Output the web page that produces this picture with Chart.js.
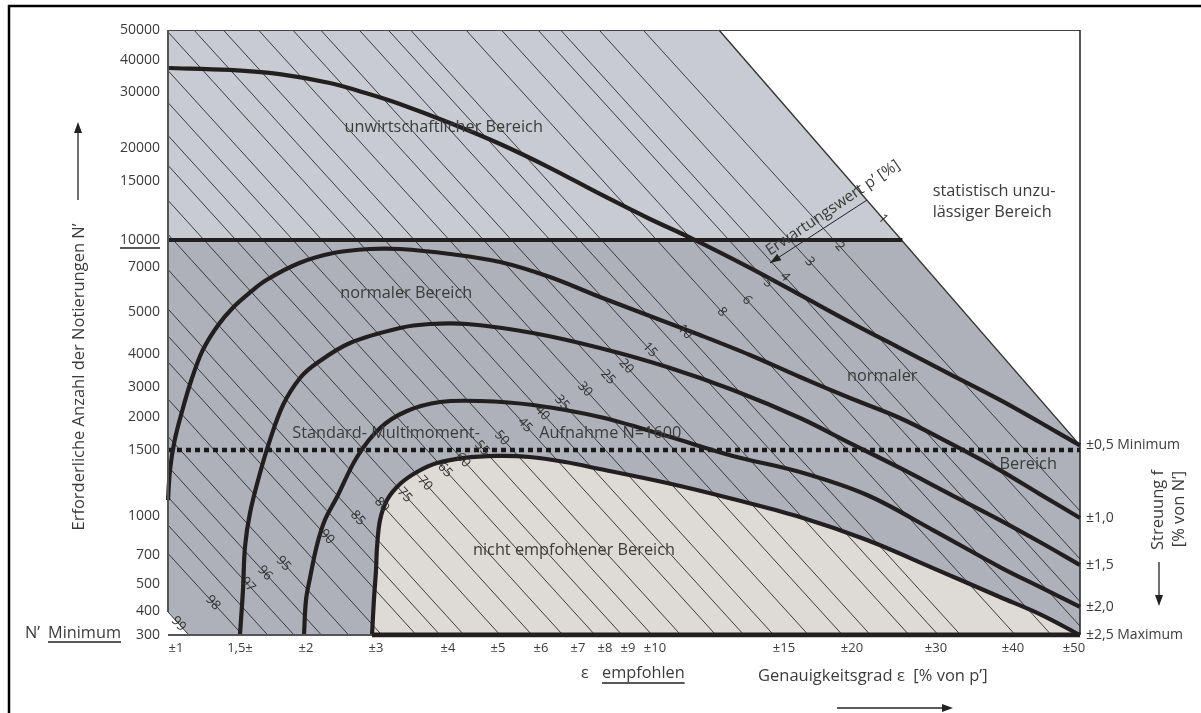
<!DOCTYPE html>
<html lang="de">
<head>
<meta charset="utf-8">
<title>Multimoment-Nomogramm</title>
<script src="https://cdn.jsdelivr.net/npm/chart.js@4.4.1/dist/chart.umd.min.js"></script>
<style>
  html, body { margin: 0; padding: 0; background: #fff; }
  canvas { display: block; }
</style>
</head>
<body>
<canvas id="nomogram" width="1201" height="713"></canvas>
<script>
// ---- axis ticks ----
const xTickValues = [1, 1.5, 2, 3, 4, 5, 6, 7, 8, 9, 10, 15, 20, 30, 40, 50];
const xTickLabels = ['±1', '1,5±', '±2', '±3', '±4', '±5', '±6', '±7', '±8', '±9', '±10', '±15', '±20', '±30', '±40', '±50'];
const yTickValues = [300, 400, 500, 700, 1000, 1500, 2000, 3000, 4000, 5000, 7000, 10000, 15000, 20000, 30000, 40000, 50000];
const yTickLabels = yTickValues.map(String);
const fTickValues = [300, 415, 631, 985, 1570];
const fTickLabels = ['±2,5 Maximum', '±2,0', '±1,5', '±1,0', '±0,5 Minimum'];

// ---- Streuung f curves (epsilon %, N) ----
const f05Eps = [0.94, 1.42, 1.80, 2.34, 2.91, 3.33, 4.04, 5.05, 6.24, 7.81, 9.81, 11.36, 13.68, 16.18, 19.85, 25.7, 31.8, 38.3, 44.4, 50.5];
const f05N   = [37500, 36900, 35600, 32800, 29600, 27860, 24460, 20710, 17000, 13900, 11780, 10200, 6960, 5760, 4760, 4140, 3390, 2570, 1920, 1570];
const f10Eps = [0.94, 0.955, 0.99, 1.05, 1.12, 1.21, 1.33, 1.45, 1.58, 1.70, 1.95, 2.39, 2.91, 3.33, 4.04, 5.05, 6.24, 7.81, 9.81, 11.74, 13.68, 16.18, 19.85, 25.7, 31.8, 38.3, 44.4, 50.5];
const f10N   = [1120, 1348, 1650, 2234, 3212, 4096, 4690, 5224, 5890, 6423, 7445, 8556, 9000, 9000, 8444, 7555, 6556, 5668, 4905, 4452, 3970, 3303, 2634, 1985, 1605, 1348, 1166, 985];
const f15Eps = [1.5, 1.523, 1.538, 1.576, 1.652, 1.727, 1.826, 1.955, 2.157, 2.629, 3.333, 3.75, 4.38, 5.81, 7.81, 10.47, 13.02, 16.18, 19.85, 25.7, 31.8, 38.3, 44.4, 50.5];
const f15N   = [300, 478, 761, 1023, 1326, 1650, 2400, 3273, 3727, 4262, 4619, 4714, 4714, 4500, 4143, 3606, 2900, 1985, 1605, 1364, 1166, 969, 800, 631];
const f20Eps = [1.985, 2.0, 2.057, 2.157, 2.27, 2.443, 2.729, 3.056, 3.43, 3.89, 4.64, 5.81, 7.81, 10.47, 13.02, 16.18, 21.79, 29.64, 38.3, 44.4, 50.5];
const f20N   = [300, 441, 541, 777, 969, 1144, 1447, 1833, 2200, 2500, 2533, 2400, 2000, 1711, 1455, 1333, 1159, 892, 617, 489, 415];
const f25Eps = [2.943, 2.97, 3.0, 3.014, 3.056, 3.153, 3.333, 3.569, 3.847, 4.3, 4.98, 5.74, 6.65, 7.81, 10.47, 13.02, 16.18, 21.79, 29.64, 38.3, 44.4, 50.5];
const f25N   = [300, 441, 597, 761, 969, 1121, 1242, 1333, 1401, 1439, 1455, 1447, 1409, 1356, 1250, 1129, 992, 815, 610, 452, 387, 300];

// ---- Erwartungswert p' lines: start and end (epsilon, N), label position (epsilon) ----
const pLabels = ['2', '3', '4', '5', '6', '8', '10', '', '15', '20', '25', '30', '35', '40', '45', '50',
                 '55', '60', '65', '70', '75', '80', '85', '', '90', '', '95', '96', '97', '', '98', '99'];
const pStart = [[9.56, 50000], [7.78, 50000], [6.53, 50000], [5.93, 50000], [5.08, 50000], [4.36, 50000], [3.48, 50000], [3.17, 50000],
                [2.76, 50000], [2.21, 50000], [1.90, 50000], [1.64, 50000], [1.37, 50000], [1.14, 50000], [0.94, 49330], [0.94, 36690],
                [0.94, 28110], [0.94, 22230], [0.94, 17380], [0.94, 13365], [0.94, 10485], [0.94, 6885], [0.94, 5135], [0.94, 4429],
                [0.94, 3758], [0.94, 2600], [0.94, 1704], [0.94, 1376], [0.94, 1144], [0.94, 931], [0.94, 712], [0.94, 396]];
const pEnd = [[50.5, 1038], [50.5, 672], [50.5, 435], [50.5, 337], [46.3, 300], [40.4, 300], [33.2, 300], [30.3, 300],
              [26.8, 300], [22.2, 300], [19.3, 300], [16.8, 300], [14.6, 300], [13.45, 300], [12.36, 300], [11.0, 300],
              [9.89, 300], [8.74, 300], [7.63, 300], [6.59, 300], [5.79, 300], [5.05, 300], [4.32, 300], [3.89, 300],
              [3.56, 300], [3.08, 300], [2.61, 300], [2.22, 300], [1.91, 300], [1.71, 300], [1.52, 300], [1.10, 300]];
const pLabelEps = [19.1, 16.9, 15.07, 14.38, 13.57, 12.6, 11.16, null, 9.81, 8.92, 8.13, 7.26, 6.57, 6.03, 5.63, 5.09,
                   4.68, 4.3, 3.96, 3.68, 3.40, 3.08, 2.74, null, 2.30, null, 1.83, 1.69, 1.56, null, 1.29, 1.02];

// ---- limits of the regions ----
const boundaryEps = [12.48, 50.5];      // statistisch unzulaessig (diagonal)
const boundaryN = [50000, 1570];
const boundaryLabelEps = 23.7;           // p' = 1
const minimumN = 10000;
const minimumEnd = 26;
const standardN = 1500;
const arrowEps = [21.8, 14.46];
const arrowN = [13390, 7445];

// in-plot texts, anchored in (epsilon, N)
const regionTexts = [
  { text: 'unwirtschaftlicher Bereich', x: 3.94, y: 23750 },
  { text: 'normaler Bereich', x: 3.42, y: 5845 },
  { text: 'normaler', x: 23.6, y: 3333 },
  { text: 'Bereich', x: 42.5, y: 1394 },
  { text: 'Standard- Multimoment-', x: 3.14, y: 1757 },
  { text: 'Aufnahme N=1600', x: 8.23, y: 1757 },
  { text: 'nicht empfohlener Bereich', x: 6.89, y: 738 },
  { text: 'statistisch unzu-', x: 29.6, y: 14150, align: 'left' },
  { text: 'lässiger Bereich', x: 29.6, y: 12375, align: 'left' },
  { text: 'Erwartungswert p’ [%]', x: 18.6, y: 12713, rot: -34, size: 15.5 }
];

// ---- distorted axes of the nomogram: value -> share of axis length ----
const scaleKnots = {
  x: { values: [0.94, 1, 1.5, 2, 3, 4, 5, 6, 7, 8, 9, 10, 15, 20, 30, 40, 50, 50.5],
       pos: [0, 0.0088, 0.0789, 0.1513, 0.2281, 0.3070, 0.3618, 0.4090, 0.4496, 0.4792, 0.5044, 0.5340, 0.6754, 0.7500, 0.8421, 0.9265, 0.9934, 1],
       ticks: xTickValues },
  y: { values: [300, 400, 500, 700, 1000, 1500, 2000, 3000, 4000, 5000, 7000, 10000, 15000, 20000, 30000, 40000, 50000],
       pos: [0, 0.0397, 0.0843, 0.1322, 0.1967, 0.3058, 0.3603, 0.4099, 0.4645, 0.5339, 0.6083, 0.6529, 0.7504, 0.8050, 0.8975, 0.9504, 1],
       ticks: yTickValues }
};
scaleKnots.yR = { values: scaleKnots.y.values, pos: scaleKnots.y.pos, ticks: fTickValues };

function piecewise(v, from, to) {
  let i = 1;
  while (i < from.length - 1 && v > from[i]) i++;
  const a = from[i - 1], b = from[i];
  return to[i - 1] + (v - a) / (b - a) * (to[i] - to[i - 1]);
}

class KnotScale extends Chart.LinearScale {
  static id = 'knot';
  static defaults = {};
  determineDataLimits() {
    const k = scaleKnots[this.id];
    this.min = k.values[0];
    this.max = k.values[k.values.length - 1];
  }
  buildTicks() {
    return scaleKnots[this.id].ticks.map(value => ({ value }));
  }
  getPixelForValue(value) {
    const k = scaleKnots[this.id];
    return this.getPixelForDecimal(piecewise(value, k.values, k.pos));
  }
  getValueForPixel(pixel) {
    const k = scaleKnots[this.id];
    return piecewise(this.getDecimalForPixel(pixel), k.pos, k.values);
  }
}
Chart.register(KnotScale);

const FONT = '"Open Sans", "Noto Sans", "DejaVu Sans", sans-serif';
const TEXT = '#3b3b3b';
const LIGHT = '#c8cbd1';
const DARK = '#aeb1b9';
const BEIGE = '#dedad6';
const INK = '#231f20';

const pts = (xs, ys) => xs.map((x, i) => ({ x, y: ys[i] }));

const datasets = [];
// lower (normal) area below N' = 10000
datasets.push({ data: pts([0.94, 50.5], [minimumN, minimumN]), borderWidth: 0, fill: 'start', backgroundColor: DARK, order: 100 });
// not recommended area
datasets.push({ data: pts(f25Eps, f25N), borderWidth: 0, fill: 'start', backgroundColor: BEIGE, tension: 0.35, order: 90 });
// p' lines
const pFirst = datasets.length;
pLabels.forEach((lab, i) => {
  const last = i === pLabels.length - 1;
  datasets.push({
    data: pts([pStart[i][0], pEnd[i][0]], [pStart[i][1], pEnd[i][1]]),
    borderColor: '#2b2b2b', borderWidth: 0.9,
    fill: last ? 'start' : false, backgroundColor: '#ffffff', order: 60
  });
});
// statistically invalid area
const boundaryIdx = datasets.length;
datasets.push({ data: pts(boundaryEps, boundaryN), borderColor: '#333', borderWidth: 1.4, fill: 'end', backgroundColor: '#ffffff', order: 40 });
// arrow Erwartungswert
const arrowIdx = datasets.length;
datasets.push({ data: pts(arrowEps, arrowN), borderColor: '#222', borderWidth: 1, order: 30 });
// heavy lines
datasets.push({ data: pts([0.94, minimumEnd], [minimumN, minimumN]), borderColor: INK, borderWidth: 4, order: 10 });
datasets.push({ data: pts([f25Eps[0], 50.5], [300, 300]), borderColor: INK, borderWidth: 5, order: 10 });
datasets.push({ data: pts([0.94, 50.5], [standardN, standardN]), borderColor: '#1a1a1a', borderWidth: 4.5, borderDash: [5, 4], order: 8 });
[[f05Eps, f05N], [f10Eps, f10N], [f15Eps, f15N], [f20Eps, f20N], [f25Eps, f25N]].forEach(([e, n]) => {
  datasets.push({ data: pts(e, n), borderColor: INK, borderWidth: 4.2, tension: 0.35, order: 5 });
});

function drawText(ctx, s, x, y, o = {}) {
  ctx.save();
  ctx.translate(x, y);
  if (o.rot) ctx.rotate(o.rot * Math.PI / 180);
  ctx.font = `${o.size || 16.3}px ${FONT}`;
  ctx.fillStyle = o.color || TEXT;
  ctx.textAlign = o.align || 'center';
  ctx.textBaseline = 'middle';
  ctx.fillText(s, 0, 0);
  const w = ctx.measureText(s).width;
  ctx.restore();
  return w;
}
function seg(ctx, x1, y1, x2, y2) {
  ctx.beginPath(); ctx.moveTo(x1, y1); ctx.lineTo(x2, y2); ctx.stroke();
}
function arrowHead(ctx, x, y, ang, len = 10, half = 3.5) {
  ctx.save();
  ctx.translate(x, y); ctx.rotate(ang);
  ctx.beginPath(); ctx.moveTo(0, 0); ctx.lineTo(-len, -half); ctx.lineTo(-len, half); ctx.closePath();
  ctx.fill();
  ctx.restore();
}
function labelOnLine(chart, idx, eps, text, size) {
  const meta = chart.getDatasetMeta(idx);
  const p0 = meta.data[0], p1 = meta.data[meta.data.length - 1];
  const xl = chart.scales.x.getPixelForValue(eps);
  const t = (xl - p0.x) / (p1.x - p0.x);
  const yl = p0.y + t * (p1.y - p0.y);
  const ang = Math.atan2(p1.y - p0.y, p1.x - p0.x) * 180 / Math.PI;
  drawText(chart.ctx, text, xl, yl, { rot: ang, size, color: '#333' });
}

const decor = {
  id: 'decor',
  beforeDraw(chart) {
    const { ctx, chartArea: a } = chart;
    ctx.save();
    ctx.fillStyle = '#ffffff';
    ctx.fillRect(0, 0, chart.width, chart.height);
    ctx.fillStyle = LIGHT;
    ctx.fillRect(a.left, a.top, a.right - a.left, a.bottom - a.top);
    ctx.restore();
  },
  afterDatasetsDraw(chart) {
    const { ctx, chartArea: a, scales } = chart;
    const X = v => scales.x.getPixelForValue(v), Y = v => scales.y.getPixelForValue(v);
    ctx.save();
    ctx.strokeStyle = '#444'; ctx.lineWidth = 1;
    seg(ctx, a.left, a.top + 0.5, a.right, a.top + 0.5);
    ctx.strokeStyle = '#222'; ctx.lineWidth = 1.5;
    seg(ctx, a.right, a.top, a.right, a.bottom);
    ctx.strokeStyle = '#555'; ctx.lineWidth = 2;
    seg(ctx, a.left, a.top, a.left, Y(pStart[pStart.length - 1][1]));
    seg(ctx, a.left, a.bottom, X(f25Eps[0]), a.bottom);

    pLabels.forEach((lab, i) => { if (lab) labelOnLine(chart, pFirst + i, pLabelEps[i], lab, 13); });
    labelOnLine(chart, boundaryIdx, boundaryLabelEps, '1', 13);

    const am = chart.getDatasetMeta(arrowIdx).data;
    ctx.fillStyle = '#222';
    arrowHead(ctx, am[1].x, am[1].y, Math.atan2(am[1].y - am[0].y, am[1].x - am[0].x), 11, 4);

    regionTexts.forEach(t => drawText(ctx, t.text, X(t.x), Y(t.y), { align: t.align, rot: t.rot, size: t.size }));
    ctx.restore();
  },
  afterDraw(chart) {
    const { ctx, scales } = chart;
    ctx.save();
    // outer frame
    ctx.strokeStyle = '#000'; ctx.lineWidth = 2.5;
    seg(ctx, 8, 6, chart.width, 6);
    seg(ctx, 9, 5, 9, chart.height);

    // left axis title
    drawText(ctx, 'Erforderliche Anzahl der Notierungen N’', 79, 377, { rot: -90, size: 16.5 });
    ctx.strokeStyle = '#222'; ctx.fillStyle = '#222'; ctx.lineWidth = 1.3;
    seg(ctx, 78, 200, 78, 130);
    arrowHead(ctx, 78, 122, -Math.PI / 2, 11, 4);

    // underline under 10000
    ctx.font = `14px ${FONT}`;
    const w10 = ctx.measureText('10000').width;
    const y10 = scales.y.getPixelForValue(10000) + 8;
    ctx.lineWidth = 1.6;
    seg(ctx, 160 - w10, y10, 160, y10);

    // N' Minimum
    drawText(ctx, 'N’', 25, 633, { align: 'left', size: 16.3 });
    const wm = drawText(ctx, 'Minimum', 48, 633, { align: 'left', size: 16.3 });
    ctx.lineWidth = 1.6;
    seg(ctx, 48, 642, 48 + wm, 642);

    // bottom titles
    drawText(ctx, 'ε', 585, 673, { size: 16.3 });
    const we = drawText(ctx, 'empfohlen', 602, 673, { align: 'left', size: 16.3 });
    seg(ctx, 602, 683, 602 + we, 683);
    drawText(ctx, 'Genauigkeitsgrad ε  [% von p’]', 758, 676, { align: 'left', size: 16.5 });
    ctx.lineWidth = 1.3;
    seg(ctx, 837, 708, 944, 708);
    arrowHead(ctx, 953, 708, 0, 11, 4);

    // right title
    drawText(ctx, 'Streuung f', 1158, 510, { rot: -90, size: 16.5 });
    drawText(ctx, '[% von N’]', 1179, 509, { rot: -90, size: 16.5 });
    seg(ctx, 1159, 562, 1159, 597);
    arrowHead(ctx, 1159, 606, Math.PI / 2, 11, 4);
    ctx.restore();
  }
};

const tickFont = { family: FONT, size: 14 };
new Chart(document.getElementById('nomogram'), {
  type: 'line',
  data: { datasets },
  options: {
    responsive: false,
    animation: false,
    devicePixelRatio: 1,
    events: [],
    layout: { padding: { top: 30, left: 0, right: 0, bottom: 0 } },
    elements: { point: { radius: 0, hitRadius: 0 } },
    plugins: { legend: { display: false }, tooltip: { enabled: false } },
    scales: {
      x: {
        type: 'knot', position: 'bottom',
        grid: { display: false, drawTicks: false }, border: { display: false },
        ticks: { autoSkip: false, maxRotation: 0, minRotation: 0, padding: 5, color: TEXT,
                 font: { family: FONT, size: 13 }, callback: (v, i) => xTickLabels[i] },
        afterFit: s => { s.height = 78; }
      },
      y: {
        type: 'knot', position: 'left',
        grid: { display: false, drawTicks: false }, border: { display: false },
        ticks: { autoSkip: false, padding: 8, color: TEXT, font: tickFont, callback: (v, i) => yTickLabels[i] },
        afterFit: s => { s.width = 168; }
      },
      yR: {
        type: 'knot', position: 'right',
        grid: { display: false, drawTicks: false }, border: { display: false },
        ticks: { autoSkip: false, padding: 6, color: TEXT, font: tickFont, callback: (v, i) => fTickLabels[i] },
        afterFit: s => { s.width = 121; }
      }
    }
  },
  plugins: [decor]
});
</script>
</body>
</html>
